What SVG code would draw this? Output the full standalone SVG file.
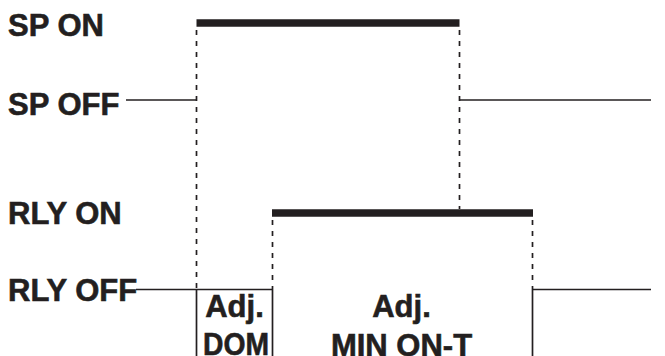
<svg xmlns="http://www.w3.org/2000/svg" width="665" height="356" viewBox="0 0 665 356">
<style>
.t{font-family:"Liberation Sans",Arial,sans-serif;font-weight:bold;font-size:31px;fill:#231f20;stroke:#231f20;stroke-width:0.6}
.m{text-anchor:middle}
.ln{stroke:#231f20;stroke-width:1.7;fill:none}
.bar{stroke:#231f20;stroke-width:7.5;fill:none}
.d{stroke:#231f20;stroke-width:1.7;fill:none;stroke-dasharray:5 6}
</style>
<rect width="665" height="356" fill="#fff"/>
<g id="labels">
<text class="t" x="8" y="36">SP ON</text>
<text class="t" x="8" y="115">SP OFF</text>
<text class="t" x="8" y="224">RLY ON</text>
<text class="t" x="8" y="301">RLY OFF</text>
</g>
<g id="connectors">
<line class="ln" x1="126" y1="100" x2="196.5" y2="100"/>
<line class="bar" x1="196.5" y1="23" x2="459.5" y2="23"/>
<line class="ln" x1="459.5" y1="100" x2="651" y2="100"/>
<line class="d" x1="196.5" y1="30" x2="196.5" y2="289"/>
<line class="d" x1="459.5" y1="30" x2="459.5" y2="209"/>
<line class="ln" x1="136" y1="289.5" x2="272.5" y2="289.5"/>
<line class="bar" x1="272" y1="213" x2="533" y2="213"/>
<line class="d" x1="272.5" y1="220" x2="272.5" y2="289"/>
<line class="d" x1="532.5" y1="220" x2="532.5" y2="289"/>
<line class="ln" x1="532.5" y1="289.5" x2="651" y2="289.5"/>
</g>
<g id="dom-box">
<line class="ln" x1="196.5" y1="289" x2="196.5" y2="356"/>
<line class="ln" x1="272.5" y1="289" x2="272.5" y2="356"/>
<text class="t m" x="234.5" y="317">Adj.</text>
<text class="t m" x="236" y="355" textLength="66" lengthAdjust="spacingAndGlyphs">DOM</text>
</g>
<g id="min-on-box">
<line class="ln" x1="532.5" y1="289" x2="532.5" y2="356"/>
<text class="t m" x="401.5" y="317">Adj.</text>
<text class="t m" x="401.5" y="356">MIN ON-T</text>
</g>
</svg>
